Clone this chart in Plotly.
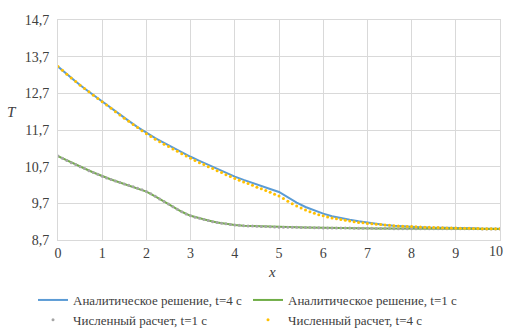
import plotly.graph_objects as go

# x grid for analytic curves (step 0.2) and numerical points (step 0.1)
x_an = [0.0, 0.2, 0.4, 0.6, 0.8, 1.0, 1.2, 1.4, 1.6, 1.8, 2.0, 2.2, 2.4, 2.6, 2.8, 3.0, 3.2, 3.4, 3.6, 3.8,
        4.0, 4.2, 4.4, 4.6, 4.8, 5.0, 5.2, 5.4, 5.6, 5.8, 6.0, 6.2, 6.4, 6.6, 6.8, 7.0, 7.2, 7.4, 7.6, 7.8,
        8.0, 8.2, 8.4, 8.6, 8.8, 9.0, 9.2, 9.4, 9.6, 9.8, 10.0]

an_t4 = [13.43, 13.22, 13.02, 12.83, 12.65, 12.47, 12.29, 12.12, 11.95, 11.78, 11.62, 11.48, 11.35, 11.22, 11.09,
         10.97, 10.86, 10.75, 10.64, 10.53, 10.43, 10.34, 10.25, 10.17, 10.09, 10.01, 9.86, 9.72, 9.60, 9.50,
         9.42, 9.35, 9.29, 9.25, 9.21, 9.17, 9.14, 9.11, 9.09, 9.07, 9.06, 9.05, 9.04, 9.04, 9.03, 9.03,
         9.02, 9.02, 9.01, 9.01, 9.01]

an_t1 = [10.99, 10.87, 10.76, 10.65, 10.54, 10.44, 10.35, 10.27, 10.19, 10.11, 10.02, 9.89, 9.75, 9.61, 9.47,
         9.36, 9.29, 9.23, 9.18, 9.14, 9.11, 9.09, 9.08, 9.07, 9.06, 9.05, 9.05, 9.045, 9.04, 9.035, 9.03,
         9.03, 9.025, 9.025, 9.02, 9.02, 9.015, 9.015, 9.01, 9.01, 9.01, 9.01, 9.01, 9.005, 9.005, 9.005,
         9.005, 9.0, 9.0, 9.0, 9.0]

x_num = [0.0, 0.1, 0.2, 0.3, 0.4, 0.5, 0.6, 0.7, 0.8, 0.9, 1.0, 1.1, 1.2, 1.3, 1.4, 1.5, 1.6, 1.7, 1.8, 1.9,
         2.0, 2.1, 2.2, 2.3, 2.4, 2.5, 2.6, 2.7, 2.8, 2.9, 3.0, 3.1, 3.2, 3.3, 3.4, 3.5, 3.6, 3.7, 3.8, 3.9,
         4.0, 4.1, 4.2, 4.3, 4.4, 4.5, 4.6, 4.7, 4.8, 4.9, 5.0, 5.1, 5.2, 5.3, 5.4, 5.5, 5.6, 5.7, 5.8, 5.9,
         6.0, 6.1, 6.2, 6.3, 6.4, 6.5, 6.6, 6.7, 6.8, 6.9, 7.0, 7.1, 7.2, 7.3, 7.4, 7.5, 7.6, 7.7, 7.8, 7.9,
         8.0, 8.1, 8.2, 8.3, 8.4, 8.5, 8.6, 8.7, 8.8, 8.9, 9.0, 9.1, 9.2, 9.3, 9.4, 9.5, 9.6, 9.7, 9.8, 9.9,
         10.0]

num_t1 = [10.99, 10.93, 10.87, 10.81, 10.76, 10.70, 10.65, 10.59, 10.54, 10.49, 10.44, 10.39, 10.35, 10.31,
          10.27, 10.23, 10.19, 10.15, 10.11, 10.07, 10.02, 9.96, 9.89, 9.82, 9.75, 9.68, 9.61, 9.54, 9.47,
          9.41, 9.36, 9.32, 9.29, 9.26, 9.23, 9.20, 9.18, 9.16, 9.14, 9.12, 9.11, 9.10, 9.09, 9.085, 9.08,
          9.075, 9.07, 9.065, 9.06, 9.055, 9.05, 9.05, 9.05, 9.045, 9.045, 9.04, 9.04, 9.04, 9.035, 9.035,
          9.03, 9.03, 9.03, 9.03, 9.025, 9.025, 9.025, 9.02, 9.02, 9.02, 9.02, 9.02, 9.015, 9.015, 9.015,
          9.015, 9.01, 9.01, 9.01, 9.01, 9.01, 9.01, 9.01, 9.01, 9.01, 9.01, 9.005, 9.005, 9.005, 9.005,
          9.005, 9.005, 9.005, 9.005, 9.005, 9.005, 9.0, 9.0, 9.0, 9.0, 9.0]

num_t4 = [13.43, 13.33, 13.22, 13.12, 13.02, 12.92, 12.83, 12.74, 12.65, 12.56, 12.47, 12.38, 12.29, 12.20,
          12.11, 12.02, 11.94, 11.85, 11.77, 11.68, 11.60, 11.52, 11.45, 11.38, 11.31, 11.25, 11.18, 11.12,
          11.05, 10.99, 10.93, 10.87, 10.81, 10.76, 10.70, 10.65, 10.59, 10.54, 10.48, 10.43, 10.38, 10.33,
          10.28, 10.24, 10.19, 10.14, 10.10, 10.05, 10.00, 9.95, 9.90, 9.83, 9.76, 9.69, 9.63, 9.57, 9.52,
          9.47, 9.43, 9.39, 9.36, 9.33, 9.30, 9.28, 9.26, 9.24, 9.22, 9.20, 9.18, 9.17, 9.15, 9.14, 9.13,
          9.12, 9.11, 9.10, 9.09, 9.08, 9.075, 9.07, 9.065, 9.06, 9.055, 9.05, 9.045, 9.04, 9.04, 9.035,
          9.03, 9.03, 9.025, 9.02, 9.02, 9.02, 9.015, 9.015, 9.01, 9.01, 9.01, 9.005, 9.005]

y_tickvals = [8.7, 9.7, 10.7, 11.7, 12.7, 13.7, 14.7]
y_ticktext = ["8,7", "9,7", "10,7", "11,7", "12,7", "13,7", "14,7"]
x_tickvals = [0, 1, 2, 3, 4, 5, 6, 7, 8, 9, 10]
x_ticktext = ["0", "1", "2", "3", "4", "5", "6", "7", "8", "9", "10"]

names = ["Аналитическое решение, t=4 с", "Аналитическое решение, t=1 с",
         "Численный расчет, t=1 с", "Численный расчет, t=4 с"]

FONT = "'Liberation Serif', 'Times New Roman', 'DejaVu Serif', serif"
TXT = "#404040"

fig = go.Figure()
fig.add_trace(go.Scatter(x=x_an, y=an_t4, mode="lines", name=names[0],
                         line=dict(color="#5B9BD5", width=2)))
fig.add_trace(go.Scatter(x=x_an, y=an_t1, mode="lines", name=names[1],
                         line=dict(color="#70AD47", width=2)))
fig.add_trace(go.Scatter(x=x_num, y=num_t1, mode="markers", name=names[2],
                         marker=dict(color="#A5A5A5", size=3)))
fig.add_trace(go.Scatter(x=x_num, y=num_t4, mode="markers", name=names[3],
                         marker=dict(color="#FFC000", size=3)))

# the last x tick label sits on the right edge of the figure: draw it as an
# annotation so that it does not push the plot margin
shown_x_ticktext = x_ticktext[:-1] + [""]

fig.update_layout(
    width=505, height=330,
    margin=dict(l=58, r=5, t=20, b=90),
    paper_bgcolor="white", plot_bgcolor="white",
    font=dict(family=FONT, size=13, color=TXT),
    showlegend=True,
    legend=dict(orientation="h", xref="container", yref="container",
                x=33 / 505, y=1 - 285 / 330, xanchor="left", yanchor="top",
                entrywidth=170, entrywidthmode="pixels", itemwidth=30,
                font=dict(family=FONT, size=13, color=TXT),
                tracegroupgap=0, bgcolor="rgba(0,0,0,0)"),
    xaxis=dict(range=[0, 10], tickvals=x_tickvals, ticktext=shown_x_ticktext,
               showgrid=True, gridcolor="#D9D9D9", gridwidth=1, zeroline=False,
               showline=True, linecolor="#D9D9D9", mirror=True, ticks="",
               tickfont=dict(family=FONT, size=14, color=TXT)),
    yaxis=dict(range=[8.7, 14.7], tickvals=y_tickvals, ticktext=y_ticktext,
               showgrid=True, gridcolor="#D9D9D9", gridwidth=1, zeroline=False,
               showline=True, linecolor="#D9D9D9", mirror=True, ticks="",
               ticklabelstandoff=5,
               tickfont=dict(family=FONT, size=14, color=TXT)),
    annotations=[
        dict(text="<i>T</i>", xref="paper", yref="paper", x=(12 - 58) / 442, y=(240 - 112) / 220,
             xanchor="center", yanchor="middle",
             showarrow=False, font=dict(family=FONT, size=15, color=TXT)),
        dict(text="<i>x</i>", xref="paper", yref="paper", x=(272 - 58) / 442, y=(240 - 272) / 220,
             xanchor="center", yanchor="middle",
             showarrow=False, font=dict(family=FONT, size=15, color=TXT)),
        dict(text=x_ticktext[-1], xref="x", yref="paper", x=x_tickvals[-1], y=0,
             xanchor="center", yanchor="top", xshift=-4, yshift=-2,
             showarrow=False, font=dict(family=FONT, size=14, color=TXT)),
    ],
)

fig.write_html("out.html", post_script="document.body.style.margin='0';",
               config={"displayModeBar": False})
